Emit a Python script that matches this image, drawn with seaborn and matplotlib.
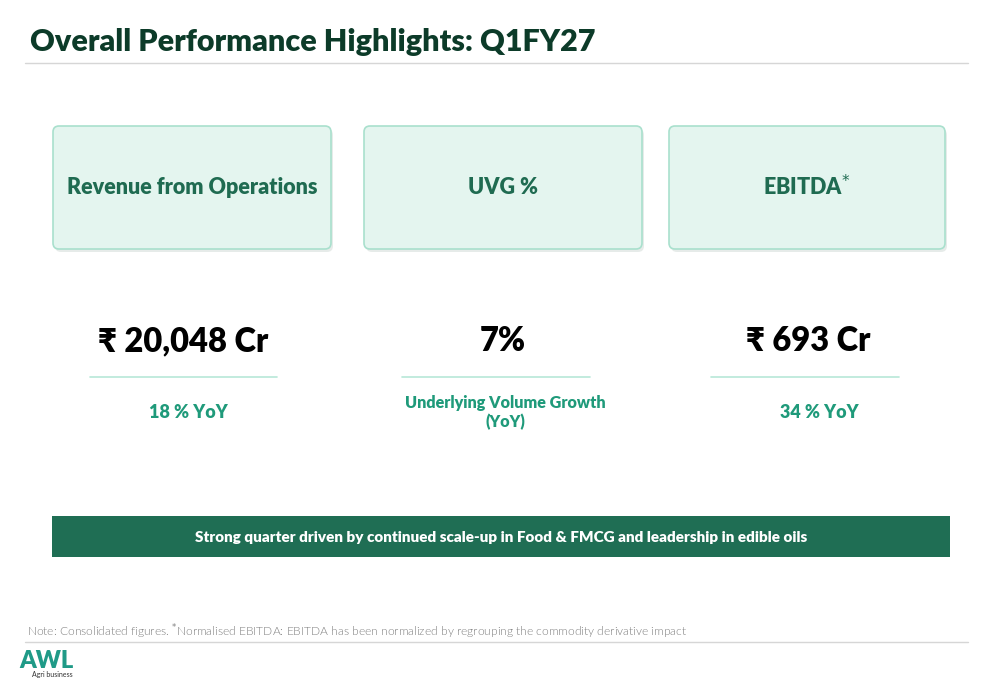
import matplotlib
matplotlib.use('Agg')
import matplotlib.pyplot as plt
from matplotlib.patches import FancyBboxPatch, Rectangle
import seaborn as sns

# 数据
title = 'Overall Performance Highlights: Q1FY27'
metrics = ['Revenue from Operations', 'UVG %', 'EBITDA$^{*}$']
values = ['₹ 20,048 Cr', '7%', '₹ 693 Cr']
subtitles = ['18 % YoY', 'Underlying Volume Growth\n(YoY)', '34 % YoY']
banner = 'Strong quarter driven by continued scale-up in Food & FMCG and leadership in edible oils'
note = ('Note: Consolidated figures. $^{*}$Normalised EBITDA: EBITDA has been normalized '
        'by regrouping the commodity derivative impact')

# 版式（像素坐标）
card_x = [(53, 331), (364, 642), (669, 945)]
value_x = [183, 503, 808]
line_x = [(90, 277), (402, 590), (711, 899)]
sub_x = [188, 505, 819]
sub_size = [13, 11.6, 13]

sns.set_theme(style='white')
plt.rcParams['font.family'] = ['Lato', 'DejaVu Sans']

dark = '#0c3b29'
green = '#1f6b51'
teal = '#1f9a7a'

fig = plt.figure(figsize=(10, 6.85), dpi=100)
ax = fig.add_axes([0, 0, 1, 1])
ax.set_xlim(0, 1000)
ax.set_ylim(685, 0)
ax.axis('off')

# 标题
ax.text(30, 42, title, fontsize=22, fontweight='heavy', color=dark, va='center', ha='left')
ax.plot([25, 968], [63, 63], color='#d6d6d6', lw=1)

# 卡片
for (x0, x1), name in zip(card_x, metrics):
    shadow = FancyBboxPatch((x0 + 2, 126 + 3), x1 - x0, 123,
                            boxstyle='round,pad=0,rounding_size=6',
                            fc='#cfd8d4', ec='none', alpha=0.5)
    ax.add_patch(shadow)
    card = FancyBboxPatch((x0, 126), x1 - x0, 123,
                          boxstyle='round,pad=0,rounding_size=6',
                          fc='#e4f5ef', ec='#a9e0cd', lw=1.2)
    ax.add_patch(card)
    ax.text((x0 + x1) / 2, 187, name, fontsize=15.5, fontweight='heavy', color=green,
            ha='center', va='center')

# 数值
for xv, val in zip(value_x, values):
    ax.text(xv, 341, val, fontsize=23.5, fontweight='heavy', color='black',
            ha='center', va='center')

for (x0, x1) in line_x:
    ax.plot([x0, x1], [377, 377], color='#b8e7d8', lw=1.2)

for xs, sub, fs in zip(sub_x, subtitles, sub_size):
    ax.text(xs, 412.5, sub, fontsize=fs, fontweight='heavy', color=teal,
            ha='center', va='center', linespacing=1.2)

# 横幅
ax.add_patch(Rectangle((52, 516), 898, 41, fc='#1f6e54', ec='none'))
ax.text(501, 537, banner, fontsize=11, fontweight='heavy', color='white',
        ha='center', va='center')

# 注释
ax.text(27, 632, note, fontsize=8.65, color='#808080', ha='left', va='center',
        fontweight=300)
ax.plot([25, 968], [642, 642], color='#d6d6d6', lw=1)

# 标志
ax.text(19, 661, 'AWL', fontsize=17, fontweight='heavy', color='#1f9a87',
        ha='left', va='center')
ax.text(73, 675, 'Agri business', fontsize=5, color='#333333', ha='right', va='center')

fig.savefig('out.png', dpi=100)
